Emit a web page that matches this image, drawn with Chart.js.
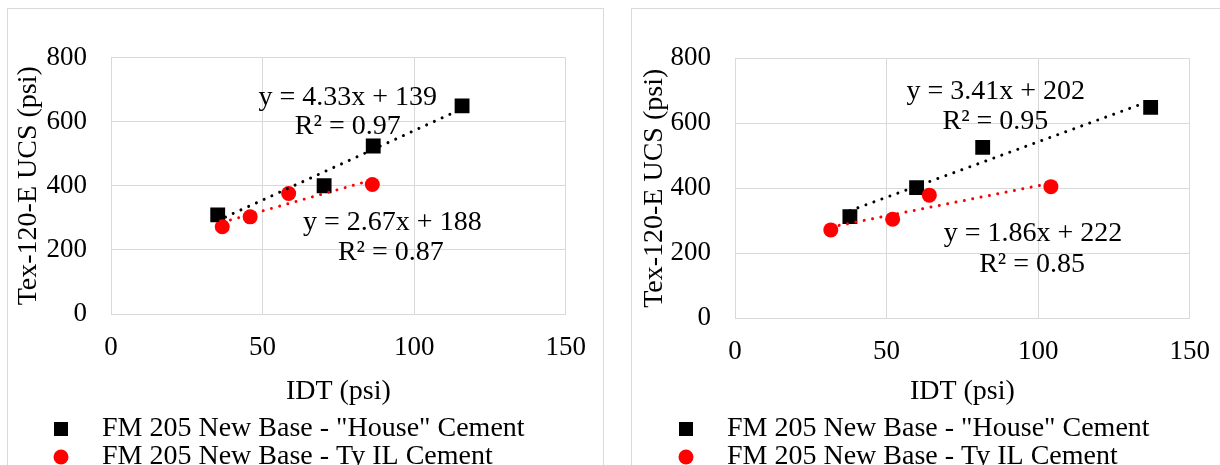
<!DOCTYPE html>
<html>
<head>
<meta charset="utf-8">
<script src="https://cdn.jsdelivr.net/npm/chart.js@4/dist/chart.umd.min.js"></script>
<style>
  body { margin: 0; width: 1220px; height: 465px; overflow: hidden; background: #fff; position: relative; }
  .panel { position: absolute; top: 8px; height: 470px; border: 1px solid #d9d9d9; background: #fff; }
  #panelLeft { left: 7px; width: 595px; }
  #panelRight { left: 631px; width: 600px; }
  canvas { position: absolute; left: 0; top: 0; }
</style>
</head>
<body>
<div class="panel" id="panelLeft"><canvas id="chartLeft" width="598" height="456"></canvas></div>
<div class="panel" id="panelRight"><canvas id="chartRight" width="598" height="456"></canvas></div>

<script>
// axis ticks and names
const X_TICKS = [0, 50, 100, 150];
const Y_TICKS = [0, 200, 400, 600, 800];
const SERIES_NAMES = ['FM 205 New Base - "House" Cement', 'FM 205 New Base - Ty IL Cement'];

// left chart (IDT vs UCS, psi)
const LEFT_HOUSE_IDT = [35.2, 70.3, 86.5, 115.8];
const LEFT_HOUSE_UCS = [309, 400, 524, 649];
const LEFT_TYIL_IDT = [36.7, 45.9, 58.6, 86.2];
const LEFT_TYIL_UCS = [272, 303, 376, 404];
const LEFT_FIT_SLOPE = [4.33, 2.67];
const LEFT_FIT_INTERCEPT = [139, 188];
const LEFT_FIT_R2 = [0.97, 0.87];

// right chart
const RIGHT_HOUSE_IDT = [37.9, 59.9, 81.7, 137.1];
const RIGHT_HOUSE_UCS = [313, 402, 526, 649];
const RIGHT_TYIL_IDT = [31.6, 52.0, 64.1, 104.2];
const RIGHT_TYIL_UCS = [272, 305, 379, 405];
const RIGHT_FIT_SLOPE = [3.41, 1.86];
const RIGHT_FIT_INTERCEPT = [202, 222];
const RIGHT_FIT_R2 = [0.95, 0.85];

const FONT = 'Liberation Serif, Times New Roman, serif';
const COLORS = ['#000000', '#ff0000'];

function points(xs, ys) {
    return xs.map((x, i) => ({ x: x, y: ys[i] }));
}

function trend(xs, slope, intercept) {
    const lo = Math.min(...xs), hi = Math.max(...xs);
    return [{ x: lo, y: slope * lo + intercept }, { x: hi, y: slope * hi + intercept }];
}

// draws the legend rows under the axis title
const seriesLegend = {
    id: 'seriesLegend',
    afterDraw(chart, args, opts) {
        const ctx = chart.ctx;
        ctx.save();
        ctx.font = '28px ' + FONT;
        ctx.textBaseline = 'middle';
        ctx.textAlign = 'left';
        chart.data.datasets.filter(d => d.legendRow !== undefined).forEach(ds => {
            const y = opts.top + ds.legendRow * opts.rowGap;
            ctx.fillStyle = ds.backgroundColor;
            if (ds.pointStyle === 'rect') {
                ctx.fillRect(opts.markerX - 7, y - 7, 14, 14);
            } else {
                ctx.beginPath();
                ctx.arc(opts.markerX, y, 7.5, 0, Math.PI * 2);
                ctx.fill();
            }
            ctx.fillStyle = '#000';
            ctx.fillText(ds.label, opts.textX, y);
        });
        ctx.restore();
    }
};

// trendline equations, anchored in data units
const trendLabels = {
    id: 'trendLabels',
    afterDatasetsDraw(chart, args, opts) {
        const ctx = chart.ctx;
        const xs = chart.scales.x, ys = chart.scales.y;
        ctx.save();
        ctx.font = '28px ' + FONT;
        ctx.fillStyle = '#000';
        ctx.textAlign = 'center';
        ctx.textBaseline = 'middle';
        opts.items.forEach(it => {
            ctx.fillText(it.text, xs.getPixelForValue(it.at[0]), ys.getPixelForValue(it.at[1]));
        });
        ctx.restore();
    }
};

function makeChart(id, d, geo) {
    const dotted = { borderWidth: 3, borderDash: [0.01, 8.5], borderCapStyle: 'round', pointRadius: 0, showLine: true, fill: false };
    new Chart(document.getElementById(id), {
        type: 'scatter',
        data: {
            datasets: [
                Object.assign({ type: 'line', data: trend(d.houseX, d.slope[0], d.intercept[0]), borderColor: COLORS[0], order: 0 }, dotted),
                Object.assign({ type: 'line', data: trend(d.tyX, d.slope[1], d.intercept[1]), borderColor: COLORS[1], order: 0 }, dotted),
                {
                    label: SERIES_NAMES[1], legendRow: 1,
                    data: points(d.tyX, d.tyY),
                    pointStyle: 'circle', pointRadius: 7.5, pointHoverRadius: 7.5,
                    backgroundColor: COLORS[1], borderColor: COLORS[1], borderWidth: 0, order: 1
                },
                {
                    label: SERIES_NAMES[0], legendRow: 0,
                    data: points(d.houseX, d.houseY),
                    pointStyle: 'rect', pointRadius: 10.5, pointHoverRadius: 10.5,
                    backgroundColor: COLORS[0], borderColor: COLORS[0], borderWidth: 0, order: 2
                }
            ]
        },
        options: {
            responsive: false,
            animation: false,
            devicePixelRatio: 1,
            layout: { padding: { left: 0, top: geo.padTop, right: geo.padRight, bottom: geo.padBottom } },
            plugins: {
                legend: { display: false },
                tooltip: { enabled: false },
                seriesLegend: geo.legend,
                trendLabels: {
                    items: [
                        { text: 'y = ' + d.slope[0].toFixed(2) + 'x + ' + d.intercept[0], at: geo.labelAt[0] },
                        { text: 'R² = ' + d.r2[0].toFixed(2), at: geo.labelAt[1] },
                        { text: 'y = ' + d.slope[1].toFixed(2) + 'x + ' + d.intercept[1], at: geo.labelAt[2] },
                        { text: 'R² = ' + d.r2[1].toFixed(2), at: geo.labelAt[3] }
                    ]
                }
            },
            scales: {
                x: {
                    type: 'linear', min: 0, max: 150,
                    afterBuildTicks: s => { s.ticks = X_TICKS.map(v => ({ value: v })); },
                    afterFit: s => { s.height = geo.xHeight; },
                    grid: { color: '#d9d9d9', drawTicks: false },
                    border: { color: '#d9d9d9' },
                    ticks: { padding: 20, color: '#000', font: { family: FONT, size: 27, lineHeight: 1 }, maxRotation: 0 },
                    title: { display: true, text: 'IDT (psi)', color: '#000', padding: 0, font: { family: FONT, size: 28, lineHeight: 1 } }
                },
                y: {
                    type: 'linear', min: 0, max: 800,
                    afterBuildTicks: s => { s.ticks = Y_TICKS.map(v => ({ value: v })); },
                    afterFit: s => { s.width = 103; },
                    grid: { color: '#d9d9d9', drawTicks: false },
                    border: { color: '#d9d9d9' },
                    ticks: { padding: 24, color: '#000', font: { family: FONT, size: 27, lineHeight: 1 } },
                    title: { display: true, text: 'Tex-120-E UCS (psi)', color: '#000', padding: { top: geo.yTitlePad, bottom: 0 }, font: { family: FONT, size: 28, lineHeight: 1 } }
                }
            }
        },
        plugins: [seriesLegend, trendLabels]
    });
}

makeChart('chartLeft', {
    houseX: LEFT_HOUSE_IDT, houseY: LEFT_HOUSE_UCS,
    tyX: LEFT_TYIL_IDT, tyY: LEFT_TYIL_UCS,
    slope: LEFT_FIT_SLOPE, intercept: LEFT_FIT_INTERCEPT, r2: LEFT_FIT_R2
}, {
    padTop: 48.5, padRight: 40, padBottom: 59, xHeight: 92, yTitlePad: 6.5,
    legend: { top: 420, rowGap: 28, markerX: 53, textX: 94 },
    labelAt: [[78.1, 674], [78.1, 583], [92.8, 284], [92.3, 190]]
});

makeChart('chartRight', {
    houseX: RIGHT_HOUSE_IDT, houseY: RIGHT_HOUSE_UCS,
    tyX: RIGHT_TYIL_IDT, tyY: RIGHT_TYIL_UCS,
    slope: RIGHT_FIT_SLOPE, intercept: RIGHT_FIT_INTERCEPT, r2: RIGHT_FIT_R2
}, {
    padTop: 49.3, padRight: 40, padBottom: 59, xHeight: 87.7, yTitlePad: 9,
    legend: { top: 420, rowGap: 28, markerX: 54, textX: 95 },
    labelAt: [[86.0, 697], [85.9, 605], [98.3, 261], [98.0, 164]]
});
</script>
</body>
</html>
